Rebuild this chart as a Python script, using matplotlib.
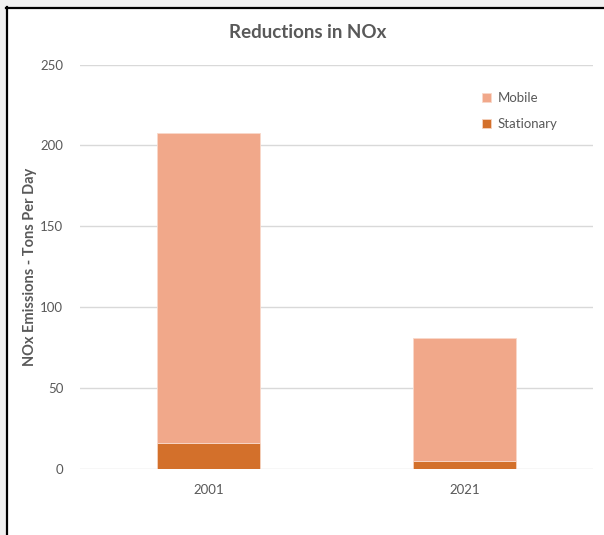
import matplotlib.pyplot as plt
from matplotlib.patches import Rectangle
from matplotlib.lines import Line2D

years = ["2001", "2021"]
stationary = [16, 5]
mobile = [191.5, 76]

plt.rcParams['font.family'] = ['Lato', 'DejaVu Sans']
text_col = "#595959"
c_mob = "#F1A88A"
c_stat = "#D3702B"

fig = plt.figure(figsize=(6.04, 5.35), dpi=100)
fig.patch.set_facecolor("white")

# window-like frame: grey margin at top/left and a dark border line
fig.patches.append(Rectangle((0, 0), 6 / 604, 1, transform=fig.transFigure, facecolor="#F0F0F0", edgecolor="none", zorder=0))
fig.patches.append(Rectangle((0, 1 - 7 / 535), 1, 7 / 535, transform=fig.transFigure, facecolor="#F0F0F0", edgecolor="none", zorder=0))
fig.lines.append(Line2D([6.5 / 604, 6.5 / 604], [0, 1 - 7 / 535], transform=fig.transFigure, color="black", lw=1.6))
fig.lines.append(Line2D([6 / 604, 1], [1 - 7.5 / 535, 1 - 7.5 / 535], transform=fig.transFigure, color="black", lw=1.6))

ax = fig.add_axes([80 / 604, 66 / 535, 513 / 604, 404.5 / 535])
x = range(len(years))
ax.bar(x, stationary, width=0.4, color=c_stat, edgecolor="#F6D3C0", linewidth=0.6, label="Stationary", zorder=3)
ax.bar(x, mobile, width=0.4, bottom=stationary, color=c_mob, edgecolor="#F9D8CA", linewidth=0.6, label="Mobile", zorder=3)

ax.set_xlim(-0.5, 1.5)
ax.set_ylim(0, 250)
ax.set_yticks(range(0, 251, 50))
ax.set_xticks(list(x))
ax.set_xticklabels(years)
ax.grid(axis="y", color="#D9D9D9", lw=1, zorder=0)
for s in ax.spines.values():
    s.set_visible(False)
ax.tick_params(length=0, colors=text_col, labelsize=9.5)
ax.tick_params(axis="y", pad=12)
ax.tick_params(axis="x", pad=11)

ax.set_ylabel("NOx Emissions - Tons Per Day", color=text_col, fontsize=10.5, fontweight="bold", labelpad=2)
fig.text(308 / 604, 1 - 33 / 535, "Reductions in NOx", ha="center", va="center", fontsize=13.5, fontweight="bold", color=text_col)

h, l = ax.get_legend_handles_labels()
leg = ax.legend(h[::-1], l[::-1], loc="upper left", bbox_to_anchor=(470 / 604, 1 - 80 / 535), bbox_transform=fig.transFigure,
                frameon=False, fontsize=9.5, handlelength=0.7, handleheight=0.7, handletextpad=0.5, labelspacing=1.1)
for t in leg.get_texts():
    t.set_color(text_col)

fig.savefig("out.png", dpi=100)
